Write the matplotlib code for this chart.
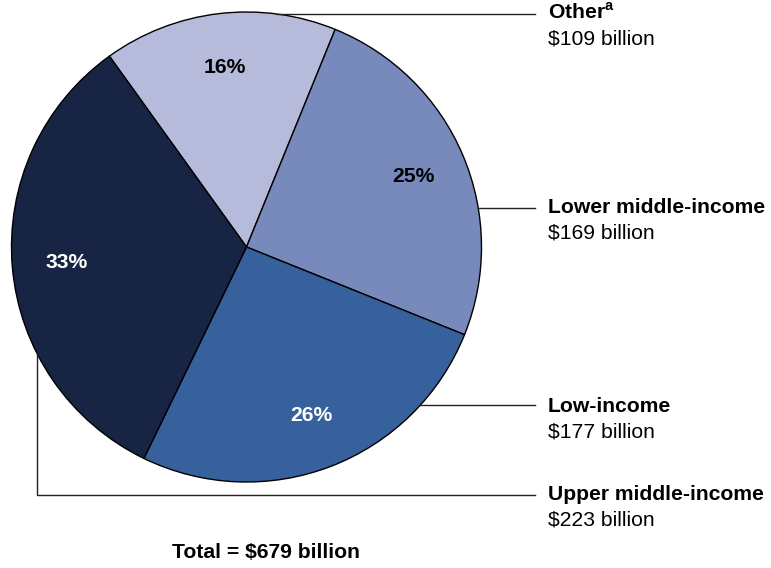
import matplotlib
matplotlib.use("Agg")
import matplotlib.pyplot as plt
import numpy as np

plt.rcParams['font.family'] = ['Liberation Sans', 'DejaVu Sans']
plt.rcParams['mathtext.fontset'] = 'custom'
plt.rcParams['mathtext.rm'] = 'Liberation Sans'
plt.rcParams['mathtext.bf'] = 'Liberation Sans:bold'

# data
categories = [r"Other$^{\mathbf{a}}$", "Lower middle-income", "Low-income", "Upper middle-income"]
values = [109, 169, 177, 223]   # billions
pct_labels = ["16%", "25%", "26%", "33%"]
value_labels = ["$109 billion", "$169 billion", "$177 billion", "$223 billion"]
colors = ["#b7bbdb", "#7889bb", "#37619d", "#172443"]
pct_colors = ["black", "black", "white", "white"]
total_label = "Total = $679 billion"

W, H = 771, 568
FS = 15.2
fig = plt.figure(figsize=(W / 100, H / 100), dpi=100)
ax = fig.add_axes([0, 0, 1, 1])

cx, cy, R = 246.5, H - 247, 235
wedges, texts = ax.pie(values, colors=colors, startangle=125.7, counterclock=False,
                       center=(cx, cy), radius=R,
                       wedgeprops=dict(edgecolor="black", linewidth=1))

# percentage labels at wedge mid angles
for w, lab, c in zip(wedges, pct_labels, pct_colors):
    mid = np.deg2rad((w.theta1 + w.theta2) / 2)
    ax.text(cx + 0.77 * R * np.cos(mid), cy + 0.77 * R * np.sin(mid), lab,
            ha="center", va="center", fontsize=FS, fontweight="bold", color=c)

# leader lines and side labels
lx_end = 535
label_x = 548
line_y = [14, 208, 405]
for yy in line_y:
    yd = H - yy
    x0 = cx + np.sqrt(R**2 - (yd - cy)**2)
    ax.plot([x0, lx_end], [yd, yd], color="#222222", lw=1)

# Upper middle-income leader (elbow)
xv = 37
y_start = cy - np.sqrt(R**2 - (xv - cx)**2)
ax.plot([xv, xv, lx_end], [y_start, H - 495, H - 495], color="#222222", lw=1)

label_tops = [14, 208, 407, 495]
for cat, vl, yy in zip(categories, value_labels, label_tops):
    yd = H - yy
    ax.text(label_x, yd - 5, cat, ha="left", va="baseline", fontsize=FS, fontweight="bold")
    ax.text(label_x, yd - 25, vl, ha="left", va="center", fontsize=FS)

ax.text(266, H - 553, total_label, ha="center", va="center", fontsize=FS, fontweight="bold")

ax.set_xlim(0, W)
ax.set_ylim(0, H)
ax.set_aspect("auto")
ax.axis("off")

plt.savefig("out.png", dpi=100)
plt.close('all')
